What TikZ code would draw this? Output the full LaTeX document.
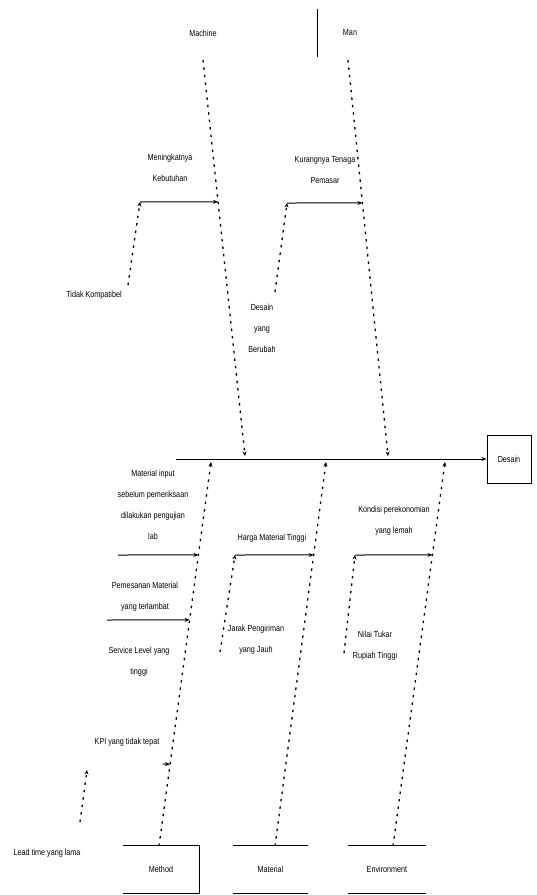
\documentclass[tikz,border=0pt]{standalone}
\usepackage{fontspec}
\setmainfont{Liberation Sans}[FakeStretch=0.82]
\usetikzlibrary{arrows.meta,calc}
\begin{document}
\begin{tikzpicture}[x=1pt,y=-1pt,
  lbl/.style={inner sep=0pt,align=center,font=\fontsize{8.8}{21}\selectfont},
  bone/.style={line width=1.3pt,dash pattern=on 2.5pt off 5pt,-{Stealth[length=4.5pt,width=4pt]}},
  cause/.style={line width=1pt,-{Stealth[length=5pt,width=4pt]}},
  frame/.style={line width=1pt}]
\useasboundingbox (0,0) rectangle (537,895);
% effect
\node[draw,line width=1pt,minimum width=44pt,minimum height=48pt,lbl] (eff) at (509,459) {Desain};
\coordinate (spL) at (176,459);
\draw[cause] (spL) -- (eff.west);
% top categories
\node[lbl] (mach) at (203,33) {Machine};
\node[lbl] (man) at (350,33) {Man};
\coordinate (vlA) at (317,9);
\coordinate (vlB) at (317,57);
\draw[frame] (vlA) -- (vlB);
% bottom categories
\node[lbl,minimum width=76pt,minimum height=47pt] (meth) at (161,869.5) {Method};
\node[lbl,minimum width=75pt,minimum height=47pt] (matl) at (270.5,869.5) {Material};
\node[lbl,minimum width=78pt,minimum height=47pt] (env) at (387,869.5) {Environment};
\draw[frame] (meth.north west) -- (meth.north east) -- (meth.south east) -- (meth.south west);
\draw[frame] (matl.north west) -- (matl.north east);
\draw[frame] (matl.south west) -- (matl.south east);
\draw[frame] (env.north west) -- (env.north east);
\draw[frame] (env.south west) -- (env.south east);
% bones
\coordinate (machT) at (203,60);
\coordinate (machS) at (245,456);
\coordinate (manT) at (348,60);
\coordinate (manS) at (388,456);
\coordinate (methB) at (159,846);
\coordinate (methS) at (211,462);
\coordinate (matlB) at (275,846);
\coordinate (matlS) at (326,462);
\coordinate (envB) at (393,846);
\coordinate (envS) at (445,462);
\draw[bone] (machT) -- (machS);
\draw[bone] (manT) -- (manS);
\draw[bone] (methB) -- (methS);
\draw[bone] (matlB) -- (matlS);
\draw[bone] (envB) -- (envS);
% Machine causes
\node[lbl] (c1) at (170,168) {Meningkatnya\\Kebutuhan};
\coordinate (c1s) at (140,202);
\coordinate (c1e) at ($(machT)!0.358!(machS)$);
\draw[cause] (c1s) -- (c1e);
\node[lbl] (c1a) at (94,295) {Tidak Kompatibel};
\coordinate (c1aT) at (128,285);
\draw[bone] (c1aT) -- (c1s);
% Man causes
\node[lbl] (c2) at (325,170) {Kurangnya Tenaga\\Pemasar};
\coordinate (c2s) at (287,203);
\coordinate (c2e) at ($(manT)!0.361!(manS)$);
\draw[cause] (c2s) -- (c2e);
\node[lbl] (c2a) at (262,328) {Desain\\yang\\Berubah};
\coordinate (c2aT) at (275,292);
\draw[bone] (c2aT) -- (c2s);
% Method causes
\node[lbl] (m1) at (153,505) {Material input\\sebelum pemeriksaan\\dilakukan pengujian\\lab};
\coordinate (m1s) at (118,555);
\coordinate (m1e) at ($(methB)!0.758!(methS)$);
\draw[cause] (m1s) -- (m1e);
\node[lbl] (m2) at (145,597) {Pemesanan Material\\yang terlambat};
\coordinate (m2s) at (107,620);
\coordinate (m2e) at ($(methB)!0.589!(methS)$);
\draw[cause] (m2s) -- (m2e);
\node[lbl] (m3) at (139,662) {Service Level yang\\tinggi};
\node[lbl] (m4) at (127,742) {KPI yang tidak tepat};
\coordinate (m4s) at (163,764);
\coordinate (m4e) at ($(methB)!0.213!(methS)$);
\draw[cause] (m4s) -- (m4e);
\node[lbl] (m5) at (47,853) {Lead time yang lama};
\coordinate (m5b) at (80,822);
\coordinate (m5t) at (87,770);
\draw[bone] (m5b) -- (m5t);
% Material causes
\node[lbl] (t1) at (272,538) {Harga Material Tinggi};
\coordinate (t1s) at (235,555);
\coordinate (t1e) at ($(matlB)!0.758!(matlS)$);
\draw[cause] (t1s) -- (t1e);
\node[lbl] (t1a) at (256,640) {Jarak Pengiriman\\yang Jauh};
\coordinate (t1aB) at (220,652);
\draw[bone] (t1aB) -- (t1s);
% Environment causes
\node[lbl] (e1) at (394,521) {Kondisi perekonomian\\yang lemah};
\coordinate (e1s) at (355,555);
\coordinate (e1e) at ($(envB)!0.758!(envS)$);
\draw[cause] (e1s) -- (e1e);
\node[lbl] (e1a) at (375,646) {Nilai Tukar\\Rupiah Tinggi};
\coordinate (e1aB) at (344,653);
\draw[bone] (e1aB) -- (e1s);
\end{tikzpicture}
\end{document}
